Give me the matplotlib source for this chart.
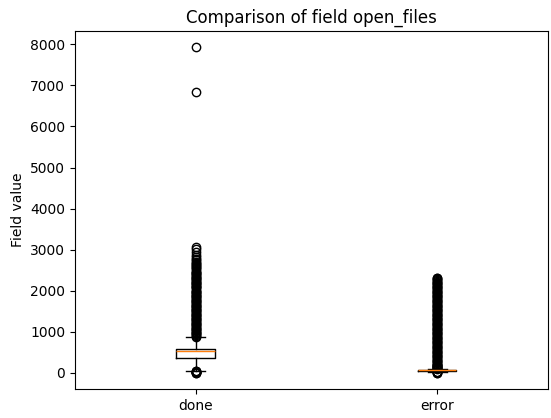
import matplotlib
matplotlib.use("Agg")
import matplotlib.pyplot as plt

LABELS = ["done", "error"]

# box statistics
MEDIANS = [530, 62]
Q1 = [370, 52]
Q3 = [580, 72]
WHISLO = [50, 25]
WHISHI = [870, 100]

# outliers (dense columns)
DONE_FLIERS = [0, 5, 10, 15, 20, 25, 30, 35, 40,
               880, 900, 920, 940, 960, 980, 1000, 1020, 1040, 1060, 1080,
               1100, 1120, 1140, 1160, 1180, 1200, 1220, 1240, 1260, 1280,
               1300, 1320, 1340, 1360, 1380, 1400, 1420, 1440, 1460, 1480,
               1500, 1520, 1540, 1560, 1580, 1600, 1620, 1640, 1660, 1680,
               1700, 1720, 1740, 1760, 1780, 1800, 1820, 1840, 1860, 1880,
               1900, 1920, 1940, 1960, 1980, 2000, 2020, 2060, 2080,
               2100, 2120, 2140, 2160, 2180, 2200, 2220, 2240, 2260, 2280,
               2300, 2320, 2340, 2360, 2380, 2400, 2420, 2440, 2460, 2480,
               2540, 2560, 2580, 2600, 2620, 2650, 2680, 2710, 2740,
               2780, 2830, 2880, 2950, 3010, 3070, 6840, 7930]
ERROR_FLIERS = [0, 5, 10, 15, 20,
                105, 110, 120, 130, 140, 150, 160, 170, 180, 190, 200, 220,
                240, 260, 280, 300, 320,
                340, 360, 380, 400, 420, 440, 460, 480, 500, 520, 540, 560,
                580, 600, 620, 640, 660, 680, 700, 720, 740, 760, 780, 800,
                820, 840, 860, 880, 900, 920, 940, 960, 980, 1000, 1020, 1040,
                1060, 1080, 1100, 1120, 1140, 1160, 1180, 1200, 1220, 1240,
                1260, 1280, 1300, 1320, 1340, 1360, 1380, 1400, 1420, 1440,
                1460, 1480, 1500, 1520, 1540, 1560, 1580, 1600, 1620, 1640,
                1660, 1680, 1700, 1720, 1740, 1760, 1780, 1800, 1820, 1840,
                1860, 1880, 1900, 1920, 1940, 1960, 1980, 2000, 2020, 2040,
                2060, 2080, 2100, 2120, 2140, 2160, 2180, 2200, 2220, 2240,
                2260, 2280, 2300, 2320]
FLIERS = [DONE_FLIERS, ERROR_FLIERS]

stats = []
for i, lab in enumerate(LABELS):
    stats.append({"label": lab, "med": MEDIANS[i], "q1": Q1[i], "q3": Q3[i],
                  "whislo": WHISLO[i], "whishi": WHISHI[i], "fliers": FLIERS[i]})

fig = plt.figure(figsize=(5.51, 4.18), dpi=100)
ax = fig.add_axes([0.136, 0.069, 0.859, 0.857])
ax.bxp(stats, positions=[1, 2], widths=0.16)
ax.set_xlim(0.5, 2.46)
ax.set_title("Comparison of field open_files")
ax.set_ylabel("Field value")
fig.savefig("out.png", dpi=100)
